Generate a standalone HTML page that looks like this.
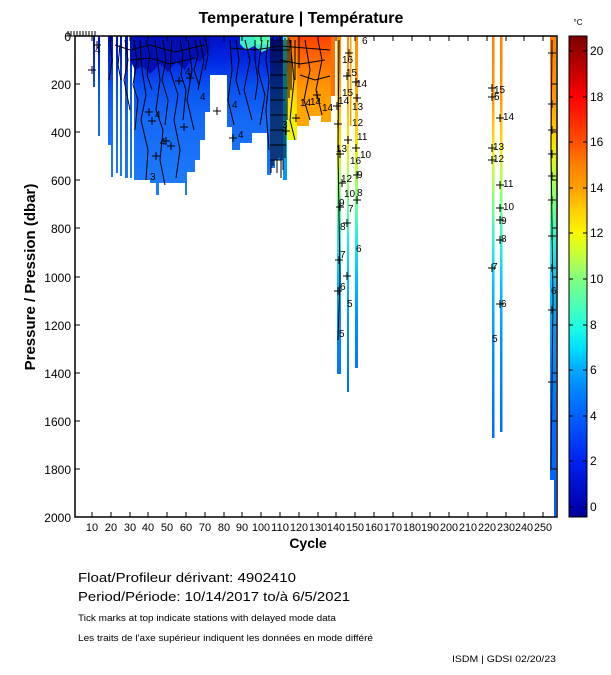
<!DOCTYPE html>
<html><head><meta charset="utf-8"><style>
html,body{margin:0;padding:0;background:#fff;}
svg{display:block;font-family:"Liberation Sans",sans-serif;}
</style></head><body>
<svg width="611" height="675" viewBox="0 0 611 675" xmlns="http://www.w3.org/2000/svg">
<defs>
<linearGradient id="cb" x1="0" y1="36" x2="0" y2="517" gradientUnits="userSpaceOnUse">
<stop offset="0" stop-color="#7a0000"/><stop offset="0.127" stop-color="#ff0000"/>
<stop offset="0.221" stop-color="#ff5000"/><stop offset="0.268" stop-color="#ff8000"/>
<stop offset="0.316" stop-color="#ffa000"/><stop offset="0.363" stop-color="#ffd000"/>
<stop offset="0.411" stop-color="#f8f800"/><stop offset="0.458" stop-color="#c0ff40"/>
<stop offset="0.506" stop-color="#80ff80"/><stop offset="0.601" stop-color="#20ffe0"/>
<stop offset="0.648" stop-color="#00e0ff"/><stop offset="0.696" stop-color="#00a8ff"/>
<stop offset="0.743" stop-color="#0080ff"/><stop offset="0.791" stop-color="#0060ff"/>
<stop offset="0.886" stop-color="#0020f0"/><stop offset="0.981" stop-color="#0000b0"/>
<stop offset="1" stop-color="#000090"/></linearGradient>
<linearGradient id="gB" x1="0" y1="36" x2="0" y2="200" gradientUnits="userSpaceOnUse">
<stop offset="0" stop-color="#0010c8"/><stop offset="0.15" stop-color="#0028e4"/>
<stop offset="0.3" stop-color="#0850f2"/><stop offset="0.5" stop-color="#1468f6"/>
<stop offset="1" stop-color="#1e80fa"/></linearGradient>
<linearGradient id="gW" x1="0" y1="36" x2="0" y2="517" gradientUnits="userSpaceOnUse">
<stop offset="0" stop-color="#ff9000"/><stop offset="0.11" stop-color="#ffa800"/>
<stop offset="0.175" stop-color="#ffd000"/><stop offset="0.237" stop-color="#f0f000"/>
<stop offset="0.29" stop-color="#b0ff50"/><stop offset="0.36" stop-color="#60ffa0"/>
<stop offset="0.42" stop-color="#20f0e0"/><stop offset="0.5" stop-color="#00c0ff"/>
<stop offset="0.59" stop-color="#0090ff"/><stop offset="0.72" stop-color="#0070ff"/>
<stop offset="1" stop-color="#0060ff"/></linearGradient>
<linearGradient id="gR" x1="0" y1="36" x2="0" y2="517" gradientUnits="userSpaceOnUse">
<stop offset="0" stop-color="#ff8000"/><stop offset="0.13" stop-color="#ff9800"/>
<stop offset="0.2" stop-color="#ffd000"/><stop offset="0.24" stop-color="#f0f000"/>
<stop offset="0.3" stop-color="#b0ff50"/><stop offset="0.36" stop-color="#70ff90"/>
<stop offset="0.44" stop-color="#20f0e0"/><stop offset="0.52" stop-color="#00c0ff"/>
<stop offset="0.62" stop-color="#0098ff"/><stop offset="0.8" stop-color="#0070ff"/>
<stop offset="1" stop-color="#0060ff"/></linearGradient>
<linearGradient id="gS" x1="0" y1="36" x2="0" y2="140" gradientUnits="userSpaceOnUse">
<stop offset="0" stop-color="#ff4000"/><stop offset="0.25" stop-color="#ff7000"/>
<stop offset="0.5" stop-color="#ff9800"/><stop offset="1" stop-color="#ffb000"/></linearGradient>
<linearGradient id="gY" x1="0" y1="36" x2="0" y2="145" gradientUnits="userSpaceOnUse">
<stop offset="0" stop-color="#ff6000"/><stop offset="0.3" stop-color="#ffa000"/>
<stop offset="0.6" stop-color="#ffe000"/><stop offset="1" stop-color="#f0ff00"/></linearGradient>
<linearGradient id="gC" x1="0" y1="36" x2="0" y2="185" gradientUnits="userSpaceOnUse">
<stop offset="0" stop-color="#30ffd0"/><stop offset="0.3" stop-color="#00e0ff"/>
<stop offset="1" stop-color="#0090ff"/></linearGradient>
</defs>

<text x="301" y="23" font-size="16" font-weight="bold" text-anchor="middle">Temperature | Température</text>
<text x="578" y="25" font-size="8" text-anchor="middle">°C</text>

<g fill="url(#gB)">
<rect x="93" y="36" width="2" height="51"/>
<rect x="98" y="36" width="2" height="100"/>
<rect x="108" y="36" width="3" height="109"/>
<rect x="111" y="36" width="2" height="141"/>
<rect x="116" y="36" width="2" height="137"/>
<rect x="120" y="36" width="2" height="140"/>
<rect x="125" y="36" width="3" height="142"/>
<rect x="130" y="36" width="2" height="142"/>
<rect x="134" y="36" width="16" height="144"/>
<rect x="150" y="36" width="35" height="147"/>
<rect x="156" y="150" width="3" height="45"/>
<rect x="185" y="36" width="2" height="159"/>
<rect x="187" y="36" width="8" height="136"/>
<rect x="195" y="36" width="5" height="124"/>
<rect x="200" y="36" width="5" height="104"/>
<rect x="205" y="36" width="5" height="76"/>
<rect x="210" y="36" width="17" height="39"/>
<rect x="227" y="36" width="5" height="91"/>
<rect x="232" y="36" width="8" height="114"/>
<rect x="240" y="36" width="12" height="107"/>
<rect x="252" y="36" width="15" height="97"/>
<rect x="267" y="36" width="4" height="139"/>
<rect x="271" y="36" width="4" height="132"/>
<rect x="275" y="36" width="8" height="124"/>
</g>
<path d="M130,36 L210,36 L210,50 L200,62 L192,58 L185,70 L176,62 L168,72 L160,64 L150,74 L142,66 L135,70 L130,60 Z" fill="#0010b8"/>
<path d="M240,36 L270,36 L270,48 L262,52 L254,46 L246,50 L240,44 Z" fill="#40e8c8"/>
<rect x="255" y="36" width="15" height="8" fill="#50ffb0"/>
<rect x="283" y="36" width="4" height="144" fill="url(#gC)"/>
<rect x="287" y="36" width="10" height="104" fill="url(#gY)"/>
<rect x="297" y="36" width="12" height="90" fill="url(#gS)"/>
<rect x="309" y="36" width="12" height="80" fill="url(#gS)"/>
<rect x="321" y="36" width="10" height="86" fill="url(#gS)"/>
<rect x="331" y="36" width="4" height="60" fill="#ff7000"/>
<rect x="337" y="36" width="4" height="338" fill="url(#gW)"/>
<rect x="347" y="36" width="2" height="356" fill="url(#gW)"/>
<rect x="350" y="36" width="1.5" height="90" fill="#ffa000"/>
<rect x="355" y="36" width="3" height="332" fill="url(#gW)"/>
<rect x="492" y="36" width="2.5" height="402" fill="url(#gR)"/>
<rect x="500" y="36" width="2.5" height="396" fill="url(#gR)"/>
<rect x="550" y="36" width="5" height="444" fill="url(#gR)"/>
<rect x="554" y="36" width="2" height="481" fill="url(#gR)"/>
<rect x="554" y="480" width="2" height="37" fill="#0060ff"/>

<!-- dense contour region -->
<g stroke="#000" stroke-width="1" fill="none">
<path d="M271,38v135M273,38v128M275,40v120M277,38v135M279,40v118M281,38v140M283,40v130M285,38v120M287,40v80M289,38v60M291,40v50M295,40v40M299,38v30"/>
<path d="M270,50h20M270,62h18M270,75h16M270,88h18M270,100h15M270,115h17M270,130h14M270,145h16M270,160h12"/>
</g>
<g fill="none" stroke="#000" stroke-width="1">
<path d="M140,40 L142,70 L146,95 L141,120 L148,150 L146,180"/>
<path d="M155,40 L160,80 L156,110 L163,130 L160,160 L165,185"/>
<path d="M172,40 L170,70 L178,95 L174,120 L180,150 L176,178"/>
<path d="M188,40 L192,70 L187,100 L194,130"/>
<path d="M125,40 L128,60 L124,80 L130,110"/>
<path d="M200,40 L204,60 L198,90"/>
<path d="M230,40 L232,70 L228,100 L234,125"/>
<path d="M245,40 L250,60 L244,90 L252,120"/>
<path d="M262,40 L258,70 L265,95 L260,125"/>
<path d="M110,40 L112,60 L109,80"/>
<path d="M134,40 L137,60 L133,85 L138,100 L135,130"/>
<path d="M146,40 L150,55 L147,75 L152,90"/>
<path d="M163,40 L166,60 L162,80 L168,100 L165,125"/>
<path d="M180,40 L183,55 L181,75 L186,90 L183,120"/>
<path d="M195,40 L198,55 L194,70 L199,85"/>
<path d="M206,40 L208,55 L205,70"/>
<path d="M236,40 L239,60 L236,80 L240,95"/>
<path d="M255,40 L255,60 L258,80 L255,100"/>
<path d="M268,40 L266,60 L269,80 L266,110 L269,150"/>
<path d="M120,45 L118,65 L121,80"/>
<path d="M290,40 L294,80 L290,120 L295,140"/>
<path d="M305,40 L310,70 L304,100 L310,120"/>
<path d="M318,40 L322,60 L316,90 L322,115"/>
<path d="M339,40 L338,150 L340,280 L338,340"/>
<path d="M552,40 L551,150 L553,300 L551,470"/>
<path d="M115,45 L130,50 L150,45 L175,52 L205,45"/>
<path d="M130,60 L150,58 L170,64 L195,58"/>
<path d="M230,48 L255,50 L280,46 L330,50"/>
<path d="M280,60 L300,64 L325,60"/>
<path d="M300,75 L315,80 L330,76"/>
</g>

<g stroke="#000" stroke-width="1" fill="none">
<path d="M88,70h8M92,66v8 M93,45h8M97,41v8 M186,78h8M190,74v8 M175,81h8M179,77v8 M213,111h8M217,107v8 M229,138h8M233,134v8 M148,121h8M152,117v8 M152,156h8M156,152v8 M162,141h8M166,137v8 M167,146h8M171,142v8 M180,127h8M184,123v8 M145,112h8M149,108v8 M282,131h8M286,127v8 M292,118h8M296,114v8 M313,95h8M317,91v8 M333,106h8M337,102v8 M334,124h8M338,120v8 M343,76h8M347,72v8 M352,82h8M356,78v8 M353,98h8M357,94v8 M345,53h8M349,49v8 M336,154h8M340,150v8 M344,140h8M348,136v8 M352,148h8M356,144v8 M338,183h8M342,179v8 M353,175h8M357,171v8 M336,207h8M340,203v8 M343,223h8M347,219v8 M353,200h8M357,196v8 M335,260h8M339,256v8 M343,276h8M347,272v8 M334,291h8M338,287v8 M488,88h8M492,84v8 M488,97h8M492,93v8 M496,118h8M500,114v8 M488,148h8M492,144v8 M488,160h8M492,156v8 M496,185h8M500,181v8 M496,208h8M500,204v8 M496,220h8M500,216v8 M496,240h8M500,236v8 M488,268h8M492,264v8 M496,304h8M500,300v8 M548,53h8M552,49v8 M548,104h8M552,100v8 M548,130h8M552,126v8 M548,154h8M552,150v8 M548,176h8M552,172v8 M548,200h8M552,196v8 M548,236h8M552,232v8 M548,268h8M552,264v8 M548,310h8M552,306v8 M548,382h8M552,378v8"/>
</g>
<g font-size="10" fill="#000">
<text x="95" y="53">4</text><text x="155" y="118">4</text><text x="160" y="145">4</text>
<text x="150" y="180">3</text><text x="185" y="75">4</text><text x="200" y="100">4</text>
<text x="232" y="108">4</text><text x="238" y="138">4</text><text x="282" y="128">3</text>
<text x="300" y="106">14</text><text x="310" y="105">14</text><text x="322" y="111">14</text>
<text x="338" y="104">14</text><text x="346" y="76">15</text><text x="342" y="63">16</text>
<text x="342" y="96">15</text><text x="356" y="87">14</text><text x="352" y="110">13</text>
<text x="352" y="126">12</text><text x="357" y="140">11</text><text x="360" y="158">10</text>
<text x="350" y="164">16</text><text x="357" y="178">9</text><text x="357" y="196">8</text>
<text x="344" y="197">10</text><text x="348" y="212">7</text><text x="356" y="252">6</text>
<text x="347" y="307">5</text><text x="340" y="290">6</text><text x="339" y="337">5</text>
<text x="340" y="258">7</text><text x="340" y="230">8</text><text x="339" y="206">9</text>
<text x="341" y="182">12</text><text x="336" y="152">13</text><text x="362" y="44">6</text>
<text x="494" y="93">15</text><text x="494" y="100">5</text><text x="503" y="120">14</text>
<text x="493" y="150">13</text><text x="493" y="162">12</text><text x="503" y="187">11</text>
<text x="503" y="210">10</text><text x="501" y="224">9</text><text x="501" y="242">8</text>
<text x="492" y="270">7</text><text x="501" y="307">6</text><text x="492" y="342">5</text>
<text x="551" y="294">6</text>
</g>

<rect x="75" y="36" width="482" height="481" fill="none" stroke="#000" stroke-width="1.5"/>
<path d="M66,36h32 M68,31v5M71,31v5M74,31v5M77,31v5M80,31v5M83,31v5M86,31v5M89,31v5M92,31v5M95,31v5" stroke="#000" stroke-width="1" fill="none"/>
<g stroke="#000" stroke-width="1">
<path d="M92,517v-5M111,517v-5M130,517v-5M148,517v-5M167,517v-5M186,517v-5M205,517v-5M224,517v-5M242,517v-5M261,517v-5M280,517v-5M299,517v-5M318,517v-5M336,517v-5M355,517v-5M374,517v-5M393,517v-5M412,517v-5M430,517v-5M449,517v-5M468,517v-5M487,517v-5M506,517v-5M524,517v-5M543,517v-5"/>
<path d="M92,36v5M111,36v5M130,36v5M148,36v5M167,36v5M186,36v5M205,36v5M224,36v5M242,36v5M261,36v5M280,36v5M299,36v5M318,36v5M336,36v5M355,36v5M374,36v5M393,36v5M412,36v5M430,36v5M449,36v5M468,36v5M487,36v5M506,36v5M524,36v5M543,36v5"/>
<path d="M75,84h5M75,132h5M75,180h5M75,228h5M75,277h5M75,325h5M75,373h5M75,421h5M75,469h5M557,84h-5M557,132h-5M557,180h-5M557,228h-5M557,277h-5M557,325h-5M557,373h-5M557,421h-5M557,469h-5"/>
</g>
<g font-size="11" text-anchor="middle">
<text x="92" y="531">10</text><text x="111" y="531">20</text><text x="130" y="531">30</text><text x="148" y="531">40</text><text x="167" y="531">50</text><text x="186" y="531">60</text><text x="205" y="531">70</text><text x="224" y="531">80</text><text x="242" y="531">90</text>
</g>
<g font-size="11" text-anchor="middle">
<text x="261" y="531" textLength="18" lengthAdjust="spacingAndGlyphs">100</text><text x="280" y="531" textLength="18" lengthAdjust="spacingAndGlyphs">110</text><text x="299" y="531" textLength="18" lengthAdjust="spacingAndGlyphs">120</text><text x="318" y="531" textLength="18" lengthAdjust="spacingAndGlyphs">130</text><text x="336" y="531" textLength="18" lengthAdjust="spacingAndGlyphs">140</text><text x="355" y="531" textLength="18" lengthAdjust="spacingAndGlyphs">150</text><text x="374" y="531" textLength="18" lengthAdjust="spacingAndGlyphs">160</text><text x="393" y="531" textLength="18" lengthAdjust="spacingAndGlyphs">170</text><text x="412" y="531" textLength="18" lengthAdjust="spacingAndGlyphs">180</text><text x="430" y="531" textLength="18" lengthAdjust="spacingAndGlyphs">190</text><text x="449" y="531" textLength="18" lengthAdjust="spacingAndGlyphs">200</text><text x="468" y="531" textLength="18" lengthAdjust="spacingAndGlyphs">210</text><text x="487" y="531" textLength="18" lengthAdjust="spacingAndGlyphs">220</text><text x="506" y="531" textLength="18" lengthAdjust="spacingAndGlyphs">230</text><text x="524" y="531" textLength="18" lengthAdjust="spacingAndGlyphs">240</text><text x="543" y="531" textLength="18" lengthAdjust="spacingAndGlyphs">250</text>
</g>
<g font-size="12" text-anchor="end">
<text x="71" y="41">0</text><text x="71" y="89">200</text><text x="71" y="137">400</text><text x="71" y="185">600</text><text x="71" y="233">800</text><text x="71" y="282">1000</text><text x="71" y="330">1200</text><text x="71" y="378">1400</text><text x="71" y="426">1600</text><text x="71" y="474">1800</text><text x="71" y="522">2000</text>
</g>
<text x="308" y="548" font-size="14" font-weight="bold" text-anchor="middle">Cycle</text>
<text transform="translate(35,277) rotate(-90)" font-size="15" font-weight="bold" text-anchor="middle">Pressure / Pression (dbar)</text>

<rect x="569" y="36" width="18" height="481" fill="url(#cb)" stroke="#000" stroke-width="1"/>
<g stroke="#000" stroke-width="1">
<path d="M569,51h4M583,51h4M569,97h4M583,97h4M569,142h4M583,142h4M569,188h4M583,188h4M569,233h4M583,233h4M569,279h4M583,279h4M569,325h4M583,325h4M569,370h4M583,370h4M569,416h4M583,416h4M569,461h4M583,461h4M569,507h4M583,507h4"/>
</g>
<g font-size="12">
<text x="590" y="55">20</text><text x="590" y="101">18</text><text x="590" y="146">16</text><text x="590" y="192">14</text><text x="590" y="237">12</text><text x="590" y="283">10</text><text x="590" y="329">8</text><text x="590" y="374">6</text><text x="590" y="420">4</text><text x="590" y="465">2</text><text x="590" y="511">0</text>
</g>

<text x="78" y="582" font-size="13" textLength="218" lengthAdjust="spacingAndGlyphs">Float/Profileur dérivant:  4902410</text>
<text x="78" y="601" font-size="13" textLength="272" lengthAdjust="spacingAndGlyphs">Period/Période:  10/14/2017  to/à  6/5/2021</text>
<text x="78" y="621" font-size="9" textLength="258" lengthAdjust="spacingAndGlyphs">Tick marks at top indicate stations with delayed mode data</text>
<text x="78" y="641" font-size="9" textLength="295" lengthAdjust="spacingAndGlyphs">Les traits de l'axe supérieur indiquent les données en mode différé</text>
<text x="452" y="662" font-size="9" textLength="104" lengthAdjust="spacingAndGlyphs">ISDM | GDSI  02/20/23</text>
</svg>
</body></html>
